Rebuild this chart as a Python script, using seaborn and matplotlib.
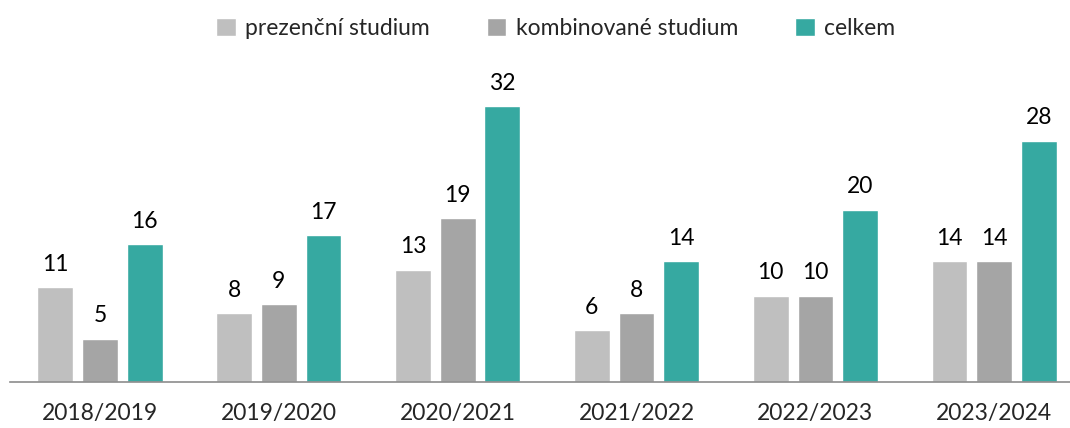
import pandas as pd
import matplotlib
matplotlib.use("Agg")
from matplotlib import pyplot as plt
import seaborn as sns

years = ["2018/2019", "2019/2020", "2020/2021", "2021/2022", "2022/2023", "2023/2024"]
prezencni = [11, 8, 13, 6, 10, 14]
kombinovane = [5, 9, 19, 8, 10, 14]
celkem = [16, 17, 32, 14, 20, 28]
series = ["prezenční studium", "kombinované studium", "celkem"]
colors = ["#BFBFBF", "#A5A5A5", "#36A9A1"]

rows = []
for name, vals in zip(series, [prezencni, kombinovane, celkem]):
    for y, v in zip(years, vals):
        rows.append({"rok": y, "typ": name, "pocet": v})
data = pd.DataFrame(rows)

sns.set_style("white")
plt.rcParams['font.family'] = ['Lato', 'DejaVu Sans']

fig = plt.figure(figsize=(10.7, 4.28), dpi=100)
ax = fig.add_axes([0.0098, 0.1075, 1.003, 0.725])
sns.barplot(data=data, x="rok", y="pocet", hue="typ", hue_order=series,
            palette=colors, width=0.75, gap=0.2, ax=ax, saturation=1)

# value labels on top of bars
for c in ax.containers:
    ax.bar_label(c, fmt='%.0f', padding=9, fontsize=16.5, color='black')

ax.set_ylim(0, 36)
ax.set_xlim(-0.5, 5.5)
ax.set_yticks([])
ax.set_xlabel('')
ax.set_ylabel('')
for s in ['top', 'right', 'left']:
    ax.spines[s].set_visible(False)
ax.spines['bottom'].set_color('#8C8C8C')
ax.spines['bottom'].set_linewidth(1.2)
ax.tick_params(axis='x', length=0, pad=15, labelsize=16.5)

le = ax.legend(loc='center', bbox_to_anchor=(0.508, 1.14), ncol=3,
               frameon=False, fontsize=16.5, handlelength=0.85, handleheight=0.85,
               handletextpad=0.4, columnspacing=2.5)

fig.savefig('out.png', dpi=100)
